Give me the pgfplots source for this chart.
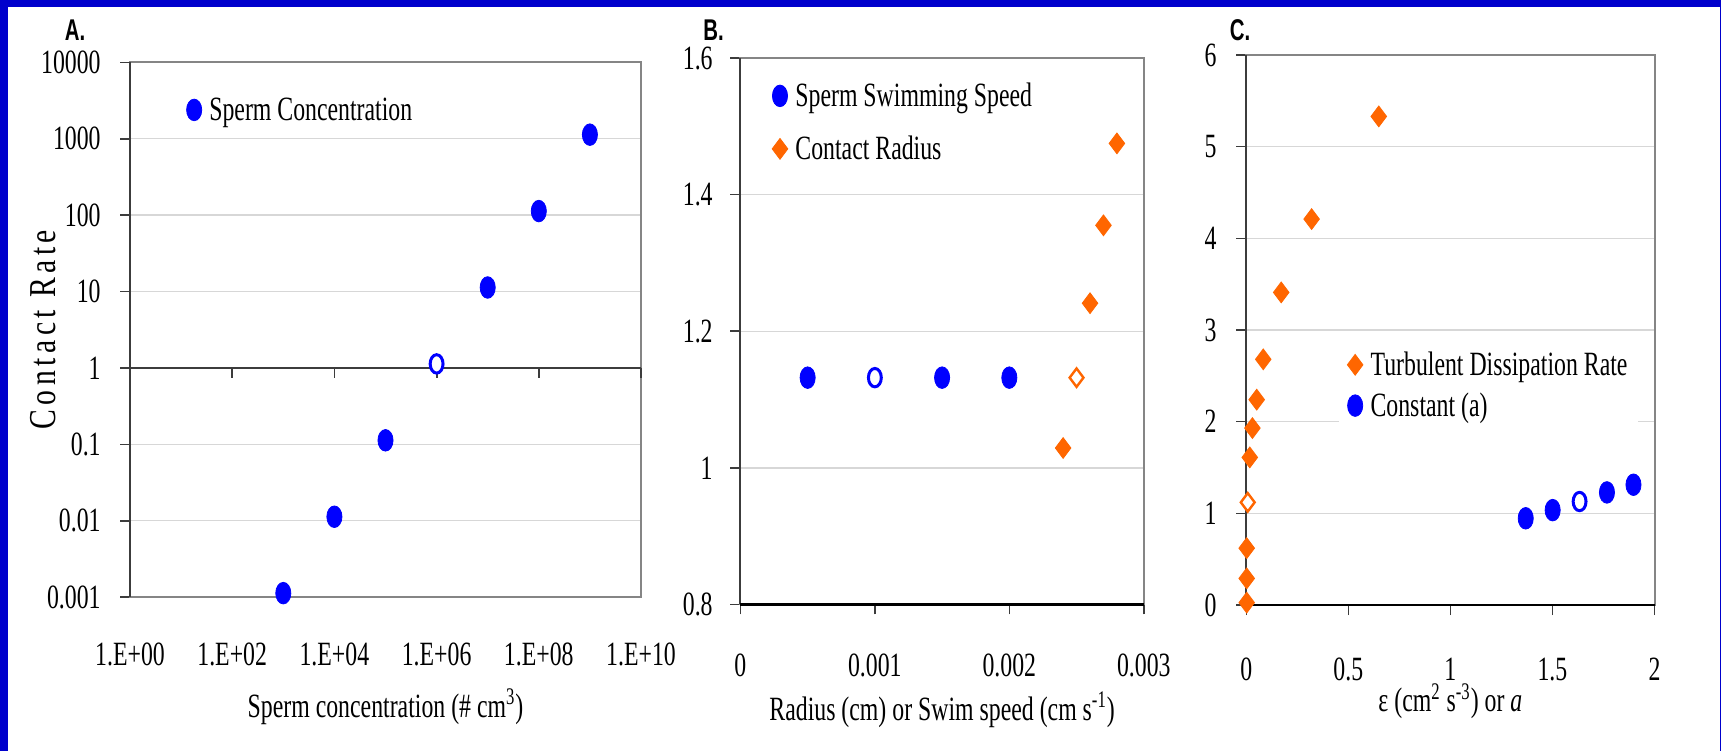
\documentclass[border=0pt]{standalone}
\usepackage{pgfplots}
\pgfplotsset{compat=1.18}
\usepackage{fontspec}
\setmainfont{Liberation Serif}[FakeStretch=0.7]
\newfontfamily\labelfont{Liberation Sans}[FakeStretch=0.68]
\newfontfamily\ylabfont{Liberation Serif}[FakeStretch=0.78,LetterSpace=12]
\definecolor{bord}{RGB}{0,0,204}
\definecolor{myblue}{RGB}{0,0,255}
\definecolor{myorange}{RGB}{255,102,0}
\definecolor{gridc}{RGB}{215,215,215}
\definecolor{framec}{RGB}{133,133,133}
\definecolor{axisc}{RGB}{60,60,60}
\pgfplotsset{
  myax/.style={scale only axis, anchor=south west, clip=false,
    scaled x ticks=false, scaled y ticks=false,
    axis line style={draw=framec, line width=1pt},
    tick style={axisc, line width=0.8pt},
    tick align=outside, ytick pos=left, xtick pos=bottom,
    major tick length=5pt,
    ymajorgrids, major grid style={gridc, line width=0.7pt},
    tick label style={font=\fontsize{17}{20}\selectfont, inner sep=0pt},
    label style={font=\fontsize{17}{20}\selectfont},
    xticklabel style={anchor=base},
    yticklabel style={anchor=east},
    legend cell align=left,
    legend image code/.code={\draw[mark repeat=2,mark phase=2,##1] plot coordinates {(0pt,1.3pt) (5pt,1.3pt) (10pt,1.3pt)};},
  },
  legfont/.style={font=\fontsize{17}{20}\selectfont, column sep=2.8pt},
  bluefill/.style={only marks, mark=*, mark size=5.4pt, color=myblue, mark options={xscale=0.7, fill=myblue, draw=myblue}},
  blueopen/.style={only marks, mark=*, mark size=4.6pt, color=myblue, mark options={xscale=0.7, fill=white, draw=myblue, line width=1.5pt}},
  orangefill/.style={only marks, mark=diamond*, mark size=5.2pt, color=myorange, mark options={fill=myorange, draw=myorange}},
  orangeopen/.style={only marks, mark=diamond*, mark size=4.6pt, color=myorange, mark options={fill=white, draw=myorange, line width=1.2pt}},
}
\begin{document}
\begin{tikzpicture}
\fill[bord] (0,0) rectangle (860.5pt,375.5pt);
\fill[white] (4pt,0) rectangle (860pt,372pt);

% ---------------- Panel A
\begin{axis}[myax, at={(65pt,76.9pt)}, width=255.5pt, height=267.45pt,
  xmode=log, ymode=log, xmin=1, xmax=1e10, ymin=1e-3, ymax=1e4,
  xminorticks=false, yminorticks=false,
  xtick={1,1e2,1e4,1e6,1e8,1e10},
  xticklabels={1.E+00,1.E+02,1.E+04,1.E+06,1.E+08,1.E+10},
  ytick={1e-3,1e-2,1e-1,1,1e1,1e2,1e3,1e4},
  yticklabels={0.001,0.01,0.1,1,10,100,1000,10000},
  xtick style={draw=none},
  xticklabel style={yshift=-29.4pt},
  yticklabel style={xshift=-9.5pt},
  xlabel={Sperm concentration (\# cm\textsuperscript{3})},
  x label style={at={(axis description cs:0.5,-0.224)}, anchor=base},
  ylabel={Contact Rate},
  y label style={at={(axis description cs:-0.170,0.5)}, anchor=center, font=\ylabfont\fontsize{19}{22}\selectfont},
  legend style={legfont, at={(0.110,0.9405)}, anchor=north west, draw=none, fill=none, inner sep=0pt, nodes={inner sep=1pt, text height=12pt, text depth=4pt}},
]
\draw[axisc, line width=1pt] (rel axis cs:0,0) -- (rel axis cs:0,1);
\draw[axisc, line width=1.1pt] (axis cs:1,1) -- (axis cs:1e10,1);
\draw[axisc, line width=0.9pt] (axis cs:1e2,1) -- ++(0pt,-5.25pt);
\draw[axisc, line width=0.9pt] (axis cs:1e4,1) -- ++(0pt,-5.25pt);
\draw[axisc, line width=0.9pt] (axis cs:1e6,1) -- ++(0pt,-5.25pt);
\draw[axisc, line width=0.9pt] (axis cs:1e8,1) -- ++(0pt,-5.25pt);
\draw[axisc, line width=0.9pt] (axis cs:1e10,1) -- ++(0pt,-5.25pt);
\addplot[bluefill] coordinates {(1e3,1.13e-3) (1e4,1.13e-2) (1e5,0.113) (1e7,11.3) (1e8,113) (1e9,1130)};
\addlegendentry{Sperm Concentration}
\addplot[blueopen, forget plot] coordinates {(1e6,1.13)};
\end{axis}
\node[font=\labelfont\bfseries\fontsize{15}{18}\selectfont] at (37.5pt,360.5pt) {A.};

% ---------------- Panel B
\begin{axis}[myax, at={(370.2pt,73.3pt)}, width=201.7pt, height=273.2pt,
  xmin=0, xmax=0.003, ymin=0.8, ymax=1.6,
  xtick={0,0.001,0.002,0.003}, xticklabels={0,0.001,0.002,0.003},
  ytick={0.8,1,1.2,1.4,1.6}, yticklabels={0.8,1,1.2,1.4,1.6},
  xticklabel style={yshift=-31.15pt},
  yticklabel style={xshift=-8.7pt},
  xlabel={Radius (cm) or Swim speed (cm s\textsuperscript{-1})},
  x label style={at={(axis description cs:0.5,-0.2116)}, anchor=base},
  legend style={legfont, at={(0.0778,0.9596)}, anchor=north west, draw=none, fill=none, inner sep=0pt, row sep=8.5pt, nodes={inner sep=1pt, text height=12pt, text depth=4pt}},
]
\draw[axisc, line width=1pt] (rel axis cs:0,0) -- (rel axis cs:0,1);
\draw[black, line width=1.2pt] (rel axis cs:0,0) -- (rel axis cs:1,0);
\addplot[bluefill] coordinates {(0.0005,1.132) (0.0015,1.132) (0.002,1.132)};
\addlegendentry{Sperm Swimming Speed}
\addplot[orangefill] coordinates {(0.0024,1.029) (0.0026,1.241) (0.0027,1.355) (0.0028,1.475)};
\addlegendentry{Contact Radius}
\addplot[blueopen, forget plot] coordinates {(0.001,1.132)};
\addplot[orangeopen, forget plot] coordinates {(0.0025,1.132)};
\end{axis}
\node[font=\labelfont\bfseries\fontsize{15}{18}\selectfont] at (356.75pt,360.5pt) {B.};

% ---------------- Panel C
\begin{axis}[myax, at={(623.15pt,73pt)}, width=204.1pt, height=275pt,
  xmin=0, xmax=2, ymin=0, ymax=6,
  xtick={0,0.5,1,1.5,2}, xticklabels={0,0.5,1,1.5,2},
  ytick={0,1,2,3,4,5,6}, yticklabels={0,1,2,3,4,5,6},
  xticklabel style={yshift=-32.75pt},
  yticklabel style={xshift=-9.65pt},
  xlabel={ε (cm\textsuperscript{2} s\textsuperscript{-3}) or \textit{a}},
  x label style={at={(axis description cs:0.5,-0.1945)}, anchor=base},
  legend style={legfont, at={(0.227,0.480)}, anchor=north west, draw=none, fill=white, inner sep=4pt, row sep=2.4pt, nodes={inner sep=1pt, text height=12pt, text depth=4pt}},
]
\draw[axisc, line width=1pt] (rel axis cs:0,0) -- (rel axis cs:0,1);
\draw[black, line width=1.2pt] (rel axis cs:0,0) -- (rel axis cs:1,0);
\addplot[orangefill] coordinates {(0.002,0.026) (0.002,0.29) (0.002,0.62) (0.017,1.61) (0.030,1.93) (0.051,2.24) (0.083,2.68) (0.171,3.41) (0.320,4.21) (0.649,5.33)};
\addlegendentry{Turbulent Dissipation Rate}
\addplot[bluefill] coordinates {(1.369,0.946) (1.501,1.035) (1.767,1.228) (1.897,1.312)};
\addlegendentry{Constant (a)}
\addplot[orangeopen, forget plot] coordinates {(0.007,1.12)};
\addplot[blueopen, forget plot] coordinates {(1.633,1.129)};
\end{axis}
\node[font=\labelfont\bfseries\fontsize{15}{18}\selectfont] at (620pt,360.5pt) {C.};
\pgfresetboundingbox
\useasboundingbox (0,0) rectangle (860.5pt,375.5pt);
\end{tikzpicture}
\end{document}
